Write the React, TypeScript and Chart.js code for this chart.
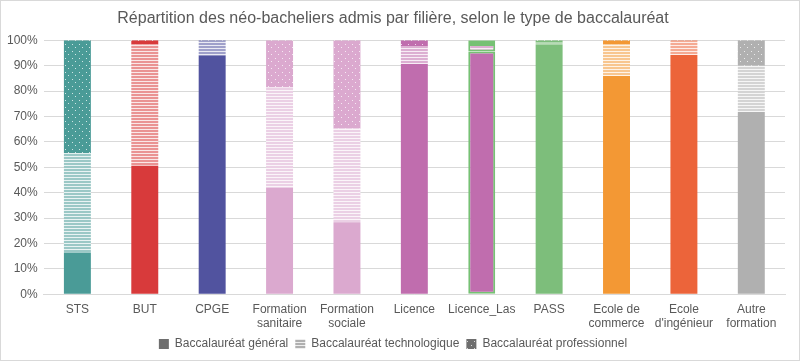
import React, { useEffect, useRef } from "react";
import { Chart, registerables } from "chart.js";

Chart.register(...registerables);

const categories: (string | string[])[] = [
  "STS",
  "BUT",
  "CPGE",
  ["Formation", "sanitaire"],
  ["Formation", "sociale"],
  "Licence",
  "Licence_Las",
  "PASS",
  ["Ecole de", "commerce"],
  ["Ecole", "d'ingénieur"],
  ["Autre", "formation"],
];

const general = [16.4, 50.6, 94.0, 41.8, 28.3, 90.6, 95.6, 98.3, 85.9, 94.2, 71.7];
const technologique = [39.1, 47.8, 5.8, 39.6, 36.9, 6.9, 2.9, 0.7, 12.5, 5.6, 18.2];
const professionnel = [44.5, 1.6, 0.2, 18.6, 34.8, 2.5, 1.5, 1.0, 1.6, 0.2, 10.1];

const seriesNames = [
  "Baccalauréat général",
  "Baccalauréat technologique",
  "Baccalauréat professionnel",
];

const categoryColors = [
  "#4A9B97",
  "#D83A3B",
  "#51539F",
  "#DBA9CF",
  "#DBA9CF",
  "#C06DAE",
  "#C06DAE",
  "#7DBE7B",
  "#F39834",
  "#EC643A",
  "#B0B0B0",
];

const yTicks = [0, 10, 20, 30, 40, 50, 60, 70, 80, 90, 100];

const highlightIndex = 6;
const highlightColor = "#76C174";

function hexToRgb(hex: string) {
  const h = hex.replace("#", "");
  return [
    parseInt(h.slice(0, 2), 16),
    parseInt(h.slice(2, 4), 16),
    parseInt(h.slice(4, 6), 16),
  ];
}

function mix(hex: string, t: number) {
  const [r, g, b] = hexToRgb(hex);
  const m = (c: number) => Math.round(c + (255 - c) * t);
  return `rgb(${m(r)},${m(g)},${m(b)})`;
}

function stripePattern(color: string) {
  const c = document.createElement("canvas");
  c.width = 4;
  c.height = 3;
  const x = c.getContext("2d")!;
  x.fillStyle = mix(color, 0.45);
  x.fillRect(0, 0, 4, 2);
  x.fillStyle = mix(color, 0.88);
  x.fillRect(0, 2, 4, 1);
  return x.createPattern(c, "repeat")!;
}

function dotPattern(color: string) {
  const c = document.createElement("canvas");
  c.width = 7;
  c.height = 7;
  const x = c.getContext("2d")!;
  x.fillStyle = color;
  x.fillRect(0, 0, 7, 7);
  x.fillStyle = "rgba(255,255,255,0.75)";
  x.fillRect(1, 1, 1, 1);
  x.fillRect(4, 4, 1, 1);
  return x.createPattern(c, "repeat")!;
}

export default function App() {
  const ref = useRef<HTMLCanvasElement | null>(null);

  useEffect(() => {
    if (!ref.current) return;
    const solid = categoryColors;
    const stripes = categoryColors.map((c) => stripePattern(c));
    const dots = categoryColors.map((c) => dotPattern(c));
    const legendBase = "#6E6E6E";
    const legendFills = [legendBase, stripePattern(legendBase), dotPattern(legendBase)];
    const values = [general, technologique, professionnel];
    const fills = [solid, stripes, dots];

    const chart = new Chart(ref.current, {
      type: "bar",
      data: {
        labels: categories,
        datasets: values.map((v, i) => ({
          label: seriesNames[i],
          data: v,
          backgroundColor: fills[i] as any,
          borderColor: highlightColor,
          borderWidth: (ctx: any) => (ctx.dataIndex === highlightIndex ? 2 : 0),
          borderSkipped: false,
          barPercentage: 0.4,
          categoryPercentage: 1,
        })),
      },
      options: {
        animation: false,
        responsive: false,
        maintainAspectRatio: false,
        layout: { padding: { left: 0, right: 14, top: 0, bottom: 0 } },
        plugins: {
          title: {
            display: true,
            text: "Répartition des néo-bacheliers admis par filière, selon le type de baccalauréat",
            color: "#595959",
            font: { family: "'Liberation Sans', Arial, sans-serif", size: 16, weight: "normal" },
            padding: { top: 8, bottom: 12 },
          },
          legend: {
            position: "bottom",
            labels: {
              boxWidth: 10,
              boxHeight: 10,
              color: "#595959",
              font: { family: "'Liberation Sans', Arial, sans-serif", size: 12 },
              padding: 7,
              generateLabels: () =>
                seriesNames.map((n, i) => ({
                  text: n,
                  fillStyle: legendFills[i] as any,
                  strokeStyle: legendBase,
                  lineWidth: 0,
                  datasetIndex: i,
                  hidden: false,
                  fontColor: "#595959",
                })),
            },
          },
          tooltip: { enabled: false },
        },
        scales: {
          x: {
            stacked: true,
            grid: { display: false },
            border: { color: "#D9D9D9" },
            ticks: {
              color: "#595959",
              padding: 0,
              font: { family: "'Liberation Sans', Arial, sans-serif", size: 12 },
              maxRotation: 0,
              autoSkip: false,
            },
          },
          y: {
            stacked: true,
            min: 0,
            max: 100,
            afterBuildTicks: (axis: any) => {
              axis.ticks = yTicks.map((v) => ({ value: v }));
            },
            grid: { color: "#D9D9D9", drawTicks: false },
            border: { display: false },
            ticks: {
              color: "#595959",
              padding: 6,
              font: { family: "'Liberation Sans', Arial, sans-serif", size: 12 },
              callback: (v: any) => v + "%",
            },
          },
        },
      },
    });
    return () => chart.destroy();
  }, []);

  return (
    <div
      style={{
        position: "fixed",
        left: 0,
        top: 0,
        width: 800,
        height: 361,
        boxSizing: "border-box",
        border: "1px solid #D9D9D9",
        background: "#fff",
      }}
    >
      <canvas ref={ref} width={798} height={359} />
    </div>
  );
}
